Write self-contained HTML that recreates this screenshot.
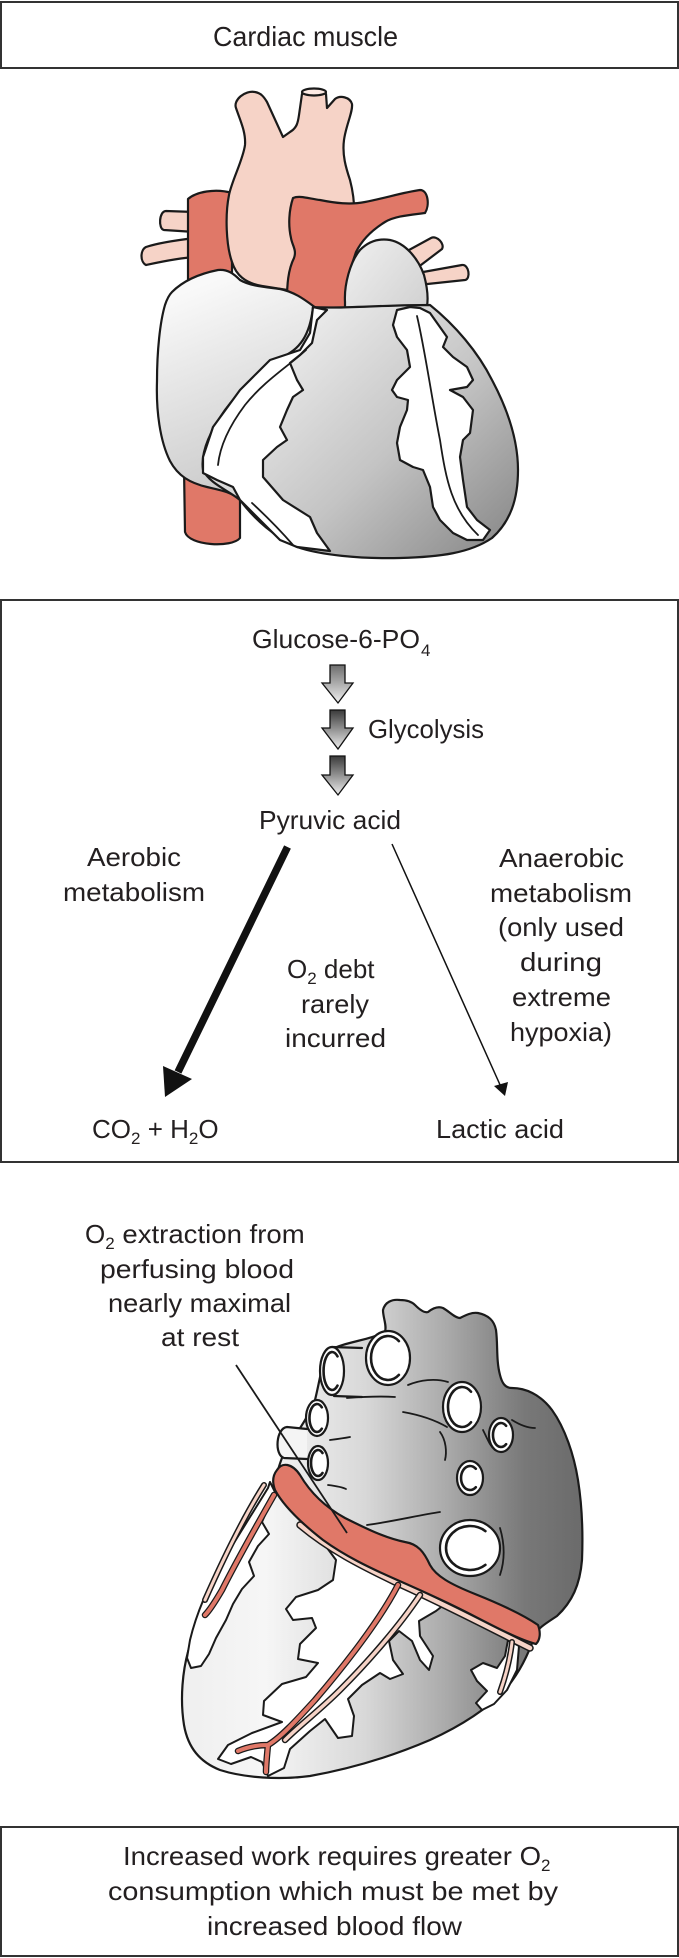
<!DOCTYPE html>
<html>
<head>
<meta charset="utf-8">
<style>
html,body{margin:0;padding:0;background:#fff;}
svg{display:block;}
text{font-family:"Liberation Sans",Arial,sans-serif;fill:#231f20;}
</style>
</head>
<body>
<svg width="679" height="1958" viewBox="0 0 679 1958" xmlns="http://www.w3.org/2000/svg">
<defs>
  <linearGradient id="gv" gradientUnits="userSpaceOnUse" x1="300" y1="320" x2="515" y2="545">
    <stop offset="0" stop-color="#ececec"/><stop offset="0.5" stop-color="#c4c4c4"/><stop offset="1" stop-color="#888888"/>
  </linearGradient>
  <linearGradient id="gra" gradientUnits="userSpaceOnUse" x1="165" y1="300" x2="245" y2="500">
    <stop offset="0" stop-color="#f9f9f9"/><stop offset="1" stop-color="#c8c8c8"/>
  </linearGradient>
  <linearGradient id="gla" gradientUnits="userSpaceOnUse" x1="350" y1="245" x2="425" y2="305">
    <stop offset="0" stop-color="#eeeeee"/><stop offset="1" stop-color="#d2d2d2"/>
  </linearGradient>
  <linearGradient id="gh2" gradientUnits="userSpaceOnUse" x1="185" y1="0" x2="585" y2="0">
    <stop offset="0" stop-color="#efefef"/><stop offset="0.2" stop-color="#f6f6f6"/><stop offset="0.45" stop-color="#d8d8d8"/>
    <stop offset="0.65" stop-color="#ababab"/><stop offset="0.85" stop-color="#787878"/><stop offset="1" stop-color="#6a6a6a"/>
  </linearGradient>
  <linearGradient id="ga" x1="0" y1="0" x2="0" y2="1">
    <stop offset="0" stop-color="#3a3a3a"/><stop offset="1" stop-color="#ededed"/>
  </linearGradient>
  <linearGradient id="ga1" x1="0" y1="0" x2="0" y2="1">
    <stop offset="0" stop-color="#6e6e6e"/><stop offset="1" stop-color="#efefef"/>
  </linearGradient>
</defs>

<!-- Boxes -->
<rect x="1" y="2" width="677" height="66" fill="none" stroke="#333" stroke-width="2"/>
<rect x="1" y="600" width="677" height="562" fill="none" stroke="#333" stroke-width="2"/>
<rect x="1" y="1827" width="677" height="129" fill="none" stroke="#333" stroke-width="2"/>

<text x="213" y="46" font-size="28" textLength="185" lengthAdjust="spacingAndGlyphs">Cardiac muscle</text>

<!-- ============ HEART 1 ============ -->
<g stroke="#1a1a1a" stroke-width="2.2" stroke-linejoin="round" stroke-linecap="round">
  <path d="M195,212 L166,211 C159,211 158,229 164,230 L195,232 Z" fill="#f6d3c7"/>
  <path d="M195,238 C178,240 158,243 146,247 C140,250 140,262 146,265 C160,262 178,258 195,257 Z" fill="#f6d3c7"/>
  <path d="M398,256 L431,238 C437,235 445,244 442,249 L417,268 Z" fill="#f6d3c7"/>
  <path d="M412,274 L462,265 C469,264 471,279 465,280 L418,285 Z" fill="#f6d3c7"/>
  <path d="M188,199 C196,192 215,188 232,193 L232,292 L188,292 Z" fill="#e07868"/>
  <path d="M184,468 L185,532 C189,546 232,548 240,538 L240,468 Z" fill="#e07868"/>
  <path d="M236,108 C233,100 245,90 255,92 C261,93 264,97 267,102 L283,137 L290,132 C297,128 298,122 299,115 L302,94 C303,89 325,89 326,94 L327,108 L335,99 C340,95 350,97 352,104 C353,112 346,125 344,140 C342,155 346,168 350,180 C354,195 355,210 354,225 L354,260 L300,292 L262,286 C245,283 236,275 232,262 C226,245 225,215 229,195 C232,180 243,160 245,145 C246,132 240,120 236,108 Z" fill="#f6d3c7"/>
  <ellipse cx="314" cy="92" rx="12" ry="3.5" fill="#fdeae4"/>
  <path d="M293,198 C300,195 310,199 320,200 C335,203 350,205 365,202 C385,198 405,192 420,190 C428,190 430,205 425,213 C410,215 395,216 385,222 C372,230 362,240 356,252 L350,270 L346,310 L300,312 L287,300 C287,285 288,270 294,258 C297,250 292,245 291,238 C288,225 289,210 293,198 Z" fill="#e07868"/>
  <path d="M345,302 C344,285 350,262 360,250 C368,242 378,238 390,240 C405,243 418,258 424,275 C428,290 428,300 427,306 L345,311 Z" fill="url(#gla)"/>
  <path d="M172,292 C182,282 198,274 218,270 C228,269 234,274 240,280 C250,286 265,287 280,289 C295,292 305,300 316,308 L300,355 L240,500 C232,492 220,490 207,487 C190,483 178,476 170,461 C160,441 156,411 157,381 C157,351 160,322 165,305 C167,299 169,295 172,292 Z" fill="url(#gra)"/>
  <path d="M313,307 C340,309 380,305 430,305 C455,325 478,352 492,380 C508,410 518,440 518,470 C518,500 510,522 492,538 C470,553 440,557 400,558 C360,559 320,555 297,547 C275,537 255,520 240,500 C228,490 210,484 203,470 C200,450 213,427 225,410 C240,390 260,370 280,358 C300,350 310,335 313,307 Z" fill="url(#gv)"/>
  <path d="M327,310 L317,320 L312,343 L300,355 L290,363 L297,380 L303,390 L293,397 L287,410 L280,427 L287,440 L277,447 L263,460 L263,477 L283,500 L310,517 L317,533 L330,551 L297,547 L280,540 L257,517 L240,500 L233,487 L217,480 L203,473 L203,457 L213,427 L240,390 L270,360 L300,350 L310,333 L313,307 Z" fill="#fff"/>
  <path d="M397,310 L393,325 L397,337 L407,350 L410,367 L397,380 L392,390 L397,397 L408,400 L407,410 L400,427 L397,443 L400,460 L413,467 L423,470 L430,487 L433,507 L440,520 L453,533 L467,540 L483,540 L490,530 L477,520 L467,507 L463,480 L460,457 L463,440 L470,433 L473,410 L463,397 L450,390 L467,387 L473,380 L467,367 L453,357 L443,347 L447,337 L430,313 L420,308 L410,307 Z" fill="#fff"/>
  <path d="M306,350 C290,365 265,380 245,405 C230,425 220,445 218,465" fill="none" stroke-width="1.8"/>
  <path d="M252,503 C265,515 280,530 293,545" fill="none" stroke-width="1.8"/>
  <path d="M417,316 C425,350 432,400 440,440 C446,480 452,510 478,535" fill="none" stroke-width="1.8"/>
</g>

<!-- ============ BOX 2 ============ -->
<text x="252" y="648" font-size="26" textLength="168" lengthAdjust="spacingAndGlyphs">Glucose-6-PO</text>
<text x="421" y="656" font-size="17">4</text>

<g stroke="#111" stroke-width="1.3" stroke-linejoin="miter">
  <path d="M330,665 L345,665 L345,683 L353,683 L338,703 L322,683 L330,683 Z" fill="url(#ga1)"/>
  <path d="M330,710 L345,710 L345,728 L353,728 L338,749 L322,728 L330,728 Z" fill="url(#ga)"/>
  <path d="M330,756 L345,756 L345,775 L353,775 L338,795 L322,775 L330,775 Z" fill="url(#ga)"/>
</g>
<text x="368" y="738" font-size="26" textLength="116" lengthAdjust="spacingAndGlyphs">Glycolysis</text>
<text x="259" y="829" font-size="26" textLength="142" lengthAdjust="spacingAndGlyphs">Pyruvic acid</text>

<text x="87" y="866" font-size="26" textLength="94" lengthAdjust="spacingAndGlyphs">Aerobic</text>
<text x="63" y="901" font-size="26" textLength="142" lengthAdjust="spacingAndGlyphs">metabolism</text>

<text x="499" y="867" font-size="26" textLength="125" lengthAdjust="spacingAndGlyphs">Anaerobic</text>
<text x="490" y="902" font-size="26" textLength="142" lengthAdjust="spacingAndGlyphs">metabolism</text>
<text x="498" y="936" font-size="26" textLength="126" lengthAdjust="spacingAndGlyphs">(only used</text>
<text x="520" y="971" font-size="26" textLength="82" lengthAdjust="spacingAndGlyphs">during</text>
<text x="512" y="1006" font-size="26" textLength="99" lengthAdjust="spacingAndGlyphs">extreme</text>
<text x="510" y="1041" font-size="26" textLength="102" lengthAdjust="spacingAndGlyphs">hypoxia)</text>

<text x="287" y="978" font-size="26">O<tspan font-size="17" dy="6">2</tspan><tspan dy="-6"> debt</tspan></text>
<text x="301" y="1013" font-size="26" textLength="68" lengthAdjust="spacingAndGlyphs">rarely</text>
<text x="285" y="1047" font-size="26" textLength="101" lengthAdjust="spacingAndGlyphs">incurred</text>

<line x1="287.5" y1="847" x2="178" y2="1072" stroke="#111" stroke-width="7.5"/>
<polygon points="163,1066 192,1079 165,1097" fill="#111"/>
<line x1="392" y1="844" x2="501" y2="1087" stroke="#111" stroke-width="1.5"/>
<polygon points="505,1096 494,1086 508,1082" fill="#111"/>

<text x="92" y="1138" font-size="26">CO<tspan font-size="17" dy="6">2</tspan><tspan dy="-6"> + H</tspan><tspan font-size="17" dy="6">2</tspan><tspan dy="-6">O</tspan></text>
<text x="436" y="1138" font-size="26" textLength="128" lengthAdjust="spacingAndGlyphs">Lactic acid</text>

<!-- ============ HEART 2 ============ -->
<text x="85" y="1243" font-size="26">O<tspan font-size="17" dy="6">2</tspan><tspan dy="-6" textLength="190" lengthAdjust="spacingAndGlyphs"> extraction from</tspan></text>
<text x="100" y="1278" font-size="26" textLength="194" lengthAdjust="spacingAndGlyphs">perfusing blood</text>
<text x="108" y="1312" font-size="26" textLength="183" lengthAdjust="spacingAndGlyphs">nearly maximal</text>
<text x="161" y="1346" font-size="26" textLength="78" lengthAdjust="spacingAndGlyphs">at rest</text>

<g stroke="#1a1a1a" stroke-width="2.2" stroke-linejoin="round" stroke-linecap="round">
  <!-- body -->
  <path d="M383,1310 C385,1302 392,1299 400,1300 C408,1300 412,1302 415,1305 C420,1310 425,1313 428,1312 C433,1308 438,1306 443,1308 C450,1312 455,1318 460,1318 C466,1315 472,1312 478,1313 C488,1315 494,1320 496,1330 C498,1345 496,1360 500,1375 C502,1383 505,1388 512,1388 C525,1388 540,1394 552,1410 C565,1428 574,1455 578,1480 C582,1505 583,1535 582,1560 C580,1585 572,1602 557,1616 C545,1624 538,1628 535,1635 C528,1655 520,1672 505,1690 C488,1708 465,1724 430,1740 C395,1755 355,1768 310,1776 C280,1780 245,1778 220,1770 C200,1762 188,1748 184,1725 C180,1700 182,1670 190,1645 C198,1615 210,1585 228,1555 C240,1535 255,1512 270,1492 C275,1485 277,1470 282,1458 C290,1440 305,1425 315,1400 C320,1380 322,1360 330,1350 C345,1342 370,1340 385,1332 C387,1325 383,1318 383,1310 Z" fill="url(#gh2)"/>

  <!-- left white strip -->
  <path d="M270,1482 L276,1494 L268,1508 L262,1522 L269,1534 L258,1546 L249,1562 L254,1576 L242,1589 L233,1604 L226,1620 L216,1638 L209,1654 L201,1666 L191,1668 L187,1658 L190,1640 C196,1615 208,1585 226,1556 C238,1536 252,1514 268,1488 Z" fill="#fff" stroke-width="2"/>

  <!-- central white branching region -->
  <path d="M322,1541 L336,1560 L333,1580 L318,1590 L296,1597 L286,1609 L293,1620 L312,1618 L316,1628 L300,1644 L298,1659 L318,1663 L306,1677 L282,1684 L264,1701 L263,1715 L282,1722 L252,1733 L228,1745 L218,1759 L231,1764 L251,1757 L262,1762 L268,1776 L284,1768 L290,1749 L310,1731 L325,1719 L338,1738 L352,1736 L354,1716 L348,1699 L362,1685 L380,1673 L390,1679 L403,1674 L393,1660 L389,1641 L399,1631 L412,1641 L420,1660 L429,1670 L433,1656 L420,1636 L419,1621 L436,1611 L445,1604 L420,1594 L395,1584 L368,1570 L345,1556 Z" fill="#fff" stroke-width="2"/>

  <!-- right white hook -->
  <path d="M508,1640 L519,1646 L517,1670 L507,1690 L494,1704 L482,1710 L476,1703 L487,1691 L477,1681 L471,1670 L483,1663 L497,1668 L505,1656 Z" fill="#fff" stroke-width="2"/>
</g>

<!-- vessels -->
<g fill="none" stroke-linecap="round" stroke-linejoin="round">
  <path d="M300,1525 C330,1550 360,1565 395,1582 C440,1602 490,1628 530,1648" stroke="#1a1a1a" stroke-width="7.5"/>
  <path d="M300,1525 C330,1550 360,1565 395,1582 C440,1602 490,1628 530,1648" stroke="#f6d3c7" stroke-width="4.5"/>
  <path d="M420,1595 C400,1625 370,1660 340,1690 C320,1710 300,1725 285,1740" stroke="#1a1a1a" stroke-width="6.5"/>
  <path d="M420,1595 C400,1625 370,1660 340,1690 C320,1710 300,1725 285,1740" stroke="#f6d3c7" stroke-width="3.5"/>
  <path d="M512,1642 C510,1660 506,1675 500,1692" stroke="#1a1a1a" stroke-width="6"/>
  <path d="M512,1642 C510,1660 506,1675 500,1692" stroke="#f6d3c7" stroke-width="3"/>
  <path d="M264,1485 C245,1515 225,1555 205,1600" stroke="#1a1a1a" stroke-width="6"/>
  <path d="M264,1485 C245,1515 225,1555 205,1600" stroke="#f6d3c7" stroke-width="3"/>
  <path d="M398,1585 C380,1620 345,1665 315,1700 C295,1722 280,1738 268,1745 M268,1745 C255,1745 245,1748 238,1751 M268,1745 C267,1755 266,1765 266,1772" stroke="#1a1a1a" stroke-width="6.5"/>
  <path d="M398,1585 C380,1620 345,1665 315,1700 C295,1722 280,1738 268,1745 M268,1745 C255,1745 245,1748 238,1751 M268,1745 C267,1755 266,1765 266,1772" stroke="#e07868" stroke-width="4"/>
  <path d="M274,1495 C257,1525 237,1560 222,1590 C215,1602 210,1610 205,1615" stroke="#1a1a1a" stroke-width="6.5"/>
  <path d="M274,1495 C257,1525 237,1560 222,1590 C215,1602 210,1610 205,1615" stroke="#e07868" stroke-width="4"/>
</g>

<g stroke="#1a1a1a" stroke-width="2.2" stroke-linejoin="round" stroke-linecap="round">
  <!-- red band -->
  <path d="M277,1470 C282,1462 292,1463 300,1475 C310,1492 325,1507 345,1518 C365,1528 385,1538 405,1542 C418,1544 424,1552 430,1565 C436,1576 450,1584 475,1594 C500,1604 522,1614 538,1625 C541,1633 540,1640 536,1644 C520,1640 495,1627 470,1614 C445,1601 420,1590 395,1579 C370,1568 345,1556 323,1540 C300,1522 283,1505 275,1490 C272,1482 273,1475 277,1470 Z" fill="#e07868"/>

  <path d="M332,1347 L362,1348" fill="none"/>
  <path d="M334,1396 L362,1397" fill="none"/>
  <path d="M307,1429 L287,1427 C276,1428 274,1455 284,1458 L307,1459" fill="#f4f4f4"/>
  <ellipse cx="332" cy="1371" rx="12" ry="24" fill="#fff"/>
  <ellipse cx="388" cy="1358" rx="22" ry="27" fill="#fff"/>
  <ellipse cx="317" cy="1418" rx="11" ry="18" fill="#fff"/>
  <ellipse cx="318" cy="1463" rx="10" ry="17" fill="#fff"/>
  <ellipse cx="462" cy="1407" rx="19" ry="25" fill="#fff"/>
  <ellipse cx="501" cy="1435" rx="12" ry="17" fill="#fff"/>
  <ellipse cx="470" cy="1478" rx="13" ry="17" fill="#fff"/>
  <ellipse cx="470" cy="1548" rx="30" ry="28" fill="#fff"/>
  <g fill="none" stroke-width="2.6">
    <path d="M337.5,1356.4 A8.5,19 0 1 0 337.5,1385.6"/>
    <path d="M398.9,1341.1 A17,22 0 1 0 398.9,1374.9"/>
    <path d="M321.8,1407.3 A7.5,14 0 1 0 321.8,1428.7"/>
    <path d="M322.5,1453 A7,13 0 1 0 322.5,1473"/>
    <path d="M471,1391.7 A14,20 0 1 0 471,1422.3"/>
    <path d="M506.1,1425.8 A8,12 0 1 0 506.1,1444.2"/>
    <path d="M475.8,1468.8 A9,12 0 1 0 475.8,1487.2"/>
    <path d="M485.4,1531.1 A24,22 0 1 0 485.4,1564.9"/>
  </g>
  <g fill="none" stroke-width="1.8">
    <path d="M347,1398 C360,1397 380,1396 395,1397"/>
    <path d="M330,1440 C338,1439 345,1438 350,1437"/>
    <path d="M328,1485 C336,1486 342,1487 346,1489"/>
    <path d="M403,1412 C420,1415 435,1420 447,1427"/>
    <path d="M408,1385 C420,1380 435,1378 448,1382"/>
    <path d="M440,1432 C446,1440 447,1452 445,1460"/>
    <path d="M367,1525 C390,1522 420,1515 440,1512"/>
    <path d="M500,1528 C505,1545 505,1560 500,1575"/>
    <path d="M483,1430 C488,1440 490,1446 495,1450"/>
    <path d="M512,1420 C520,1425 528,1428 535,1428"/>
  </g>
</g>

<line x1="236" y1="1365" x2="347" y2="1533" stroke="#1a1a1a" stroke-width="1.8"/>

<!-- ============ BOTTOM BOX ============ -->
<text x="123" y="1865" font-size="26"><tspan textLength="418" lengthAdjust="spacingAndGlyphs">Increased work requires greater O</tspan><tspan font-size="17" dy="6">2</tspan></text>
<text x="108" y="1900" font-size="26" textLength="450" lengthAdjust="spacingAndGlyphs">consumption which must be met by</text>
<text x="207" y="1935" font-size="26" textLength="255" lengthAdjust="spacingAndGlyphs">increased blood flow</text>
</svg>
</body>
</html>
